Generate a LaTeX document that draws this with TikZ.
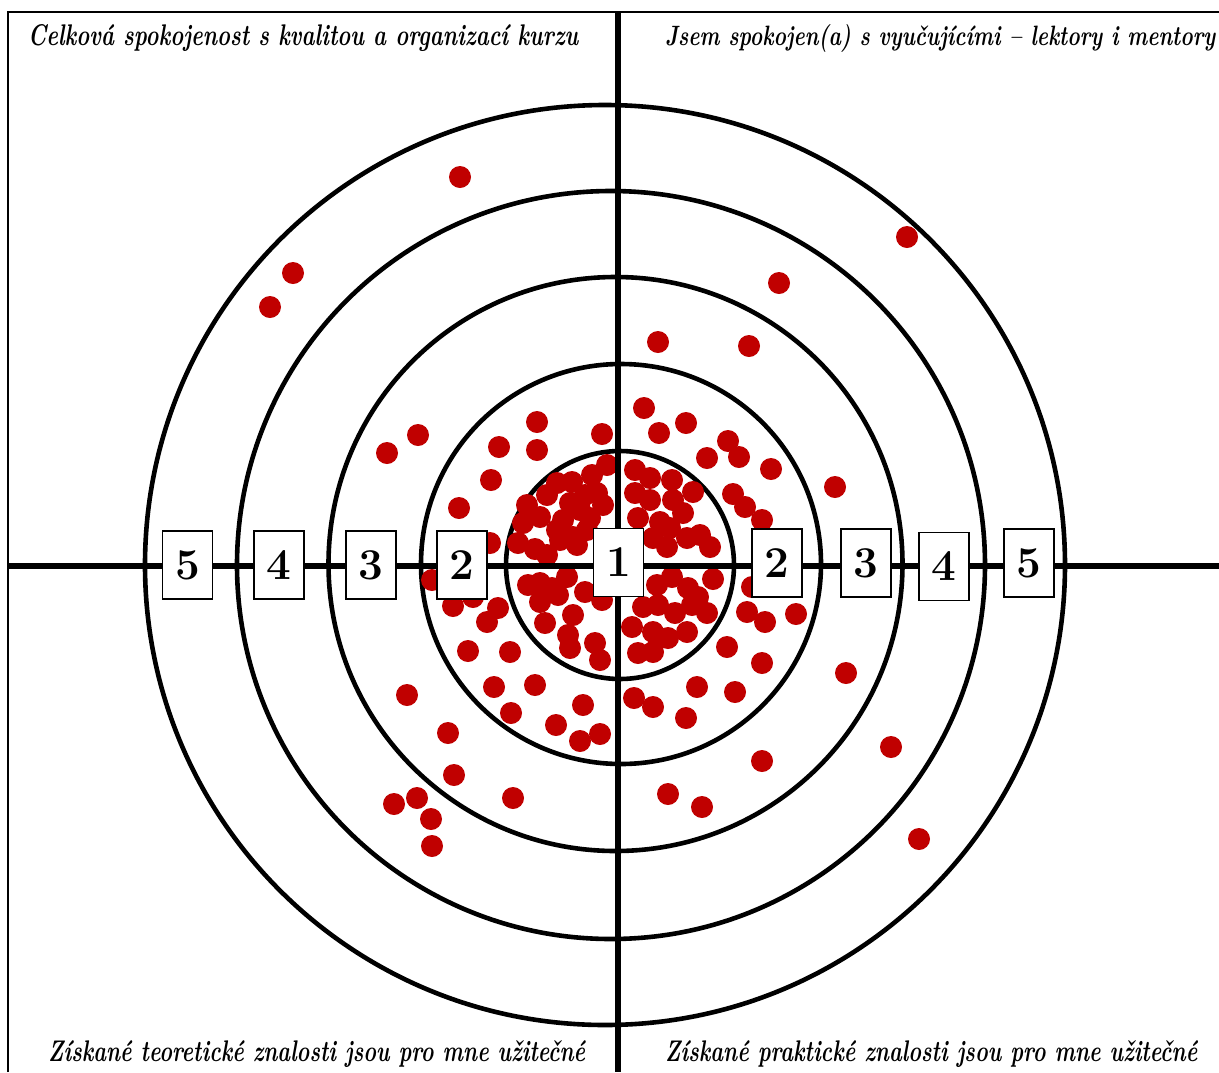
\documentclass[tikz,border=0pt]{standalone}
\usepackage{fontspec}
\usepackage{graphicx}
\definecolor{dotred}{RGB}{192,0,0}
\begin{document}
\begin{tikzpicture}[x=1pt,y=-1pt,
  ring/.style={line width=4.6pt},
  axisline/.style={line width=5.5pt},
  frameline/.style={line width=1.3pt},
  numbox/.style={draw, line width=1.2pt, fill=white, minimum width=50pt, minimum height=68pt, inner sep=0pt, font=\fontsize{44}{44}\selectfont\bfseries},
  reddot/.style={fill=dotred},
  title/.style={inner sep=0pt, anchor=base west, font=\bfseries\itshape}]
\fill[white] (0,0) rectangle (1219,1072);
\useasboundingbox (0,0) rectangle (1219,1072);
\draw[frameline] (8,1072) -- (8,12) -- (1219,12);
% rings
\draw[ring] (620,565) circle[radius=114];
\draw[ring] (621,564) circle[radius=200];
\draw[ring] (615.5,564) circle[radius=287];
\draw[ring] (611,565) circle[radius=374];
\draw[ring] (605,565) circle[radius=460];
% dots
\foreach \a/\b in {460/177,293/273,270/307,418/435,387/453,537/422,499/447,537/450,602/434,491/480,459/508,490/543,
607/465,592/475,557/483,572/482,547/495,597/493,603/505,570/503,580/510,527/505,540/517,563/520,590/518,523/523,
587/530,557/530,573/537,518/543,535/549,547/555,577/545,560/540,585/495,
907/237,779/283,658/342,749/346,644/408,686/423,659/433,728/441,739/457,707/458,771/469,835/487,733/494,745/507,
762/520,635/470,650/478,672/480,635/493,650/500,673/500,693/492,683/513,638/518,660/522,670/528,700/535,710/547,
653/538,667/547,687/538,752/587,
713/579,672/577,657/585,688/588,643/607,658/605,675/613,692/605,707/613,698/597,632/627,653/632,668/638,687/632,
638/653,653/652,727/647,747/612,765/622,796/614,762/663,846/673,697/687,735/692,653/707,686/718,634/698,891/747,
762/761,668/794,702/807,919/839,
528/585,540/583,552/588,567/577,558/595,540/602,585/592,602/600,545/623,573/615,568/635,570/648,595/643,600/660,
510/652,498/608,487/622,494/687,535/685,407/695,448/733,454/775,394/804,417/798,431/819,432/846,513/798,468/651,
511/713,556/725,583/705,580/741,600/734,453/606,473/597,432/580}
  \fill[reddot] (\a,\b) circle[radius=11];
% axes
\coordinate (vtop) at (618,12);
\coordinate (vbot) at (618,1072);
\coordinate (hleft) at (8,566);
\coordinate (hright) at (1219,566);
\draw[axisline] (vtop) -- (vbot);
\draw[axisline] (hleft) -- (hright);
% number boxes
\node[numbox] (l5) at (187.5,565) {5};
\node[numbox] (l4) at (279,565) {4};
\node[numbox] (l3) at (371,565) {3};
\node[numbox] (l2) at (462,565) {2};
\node[numbox] (c1) at (618.5,562.5) {1};
\node[numbox] (r2) at (777,563) {2};
\node[numbox] (r3) at (866,563) {3};
\node[numbox] (r4) at (944,566.5) {4};
\node[numbox] (r5) at (1029,563) {5};
% titles
\node[title] (tl) at (28,45) {\resizebox{550pt}{21pt}{Celková spokojenost s kvalitou a organizací kurzu}};
\node[title] (tr) at (665,45) {\resizebox{550pt}{21pt}{Jsem spokojen(a) s vyučujícími \textendash{} lektory i mentory}};
\node[title] (bl) at (48,1061) {\resizebox{537pt}{21pt}{Získané teoretické znalosti jsou pro mne užitečné}};
\node[title] (br) at (665,1061) {\resizebox{532pt}{21pt}{Získané praktické znalosti jsou pro mne užitečné}};
\end{tikzpicture}
\end{document}
